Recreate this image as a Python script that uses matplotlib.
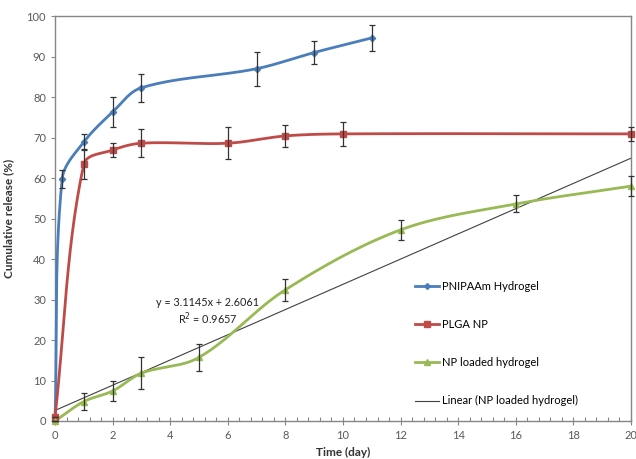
import numpy as np
import matplotlib.pyplot as plt
from matplotlib.lines import Line2D

# release data
pnipaam_t = [0, 0.25, 1, 2, 3, 7, 9, 11]
pnipaam_y = [0, 59.8, 68.9, 76.3, 82.3, 87.0, 91.0, 94.6]
pnipaam_err = [0, 2.2, 2.0, 3.7, 3.5, 4.2, 2.8, 3.3]

plga_t = [0, 1, 2, 3, 6, 8, 10, 20]
plga_y = [1.0, 63.4, 66.9, 68.6, 68.6, 70.4, 70.9, 70.9]
plga_err = [0, 3.7, 1.7, 3.4, 4.0, 2.7, 2.9, 1.7]

gel_t = [0, 1, 2, 3, 5, 8, 12, 16, 20]
gel_y = [0, 4.8, 7.4, 11.8, 15.7, 32.4, 47.2, 53.6, 58.0]
gel_err = [0, 2.0, 2.5, 3.9, 3.3, 2.7, 2.5, 2.1, 2.4]

slope, intercept, r2 = 3.1145, 2.6061, 0.9657

blue = '#4a7ebb'
red = '#be4b48'
green = '#98b954'
grey = '#595959'


def smooth(x, y, sx=28.8, sy=4.05, n=30):
    # smoothed line like Excel: bezier per segment, tangents scaled by segment length
    p = np.column_stack([np.array(x) * sx, np.array(y) * sy])
    p = np.vstack([p[0], p, p[-1]])
    out = []
    for i in range(1, len(p) - 2):
        p0, p1, p2, p3 = p[i - 1], p[i], p[i + 1], p[i + 2]
        L = np.hypot(*(p2 - p1))
        d1 = p2 - p0
        d2 = p3 - p1
        d1 = d1 / (np.hypot(*d1) or 1)
        d2 = d2 / (np.hypot(*d2) or 1)
        c1 = p1 + d1 * L / 3.0
        c2 = p2 - d2 * L / 3.0
        t = np.linspace(0, 1, n)[:, None]
        seg = ((1 - t) ** 3 * p1 + 3 * (1 - t) ** 2 * t * c1
               + 3 * (1 - t) * t ** 2 * c2 + t ** 3 * p2)
        out.append(seg)
    out = np.vstack(out)
    return out[:, 0] / sx, out[:, 1] / sy


plt.rcParams['font.family'] = ['Lato', 'DejaVu Sans']

fig = plt.figure(figsize=(6.36, 4.59), dpi=100)
ax = fig.add_axes([0.0865, 0.0828, 0.9055, 0.8822])

series = [(pnipaam_t, pnipaam_y, pnipaam_err, blue, 'D', 3.2),
          (plga_t, plga_y, plga_err, red, 's', 5),
          (gel_t, gel_y, gel_err, green, '^', 5)]

xs = np.array([0, 20])
ax.plot(xs, slope * xs + intercept, color='#404040', lw=0.8, zorder=2)

for t, y, e, c, m, ms in series:
    sxv, syv = smooth(t, y)
    ax.plot(sxv, syv, color=c, lw=2, zorder=3, clip_on=False)
    ax.plot(t, y, ls='none', marker=m, color=c, ms=ms, zorder=4, clip_on=False)
    ax.errorbar(t, y, yerr=e, fmt='none', ecolor='#333333', elinewidth=0.9,
                capsize=2.5, capthick=0.9, zorder=5, clip_on=False)

ax.text(5.3, 29.3, 'y = 3.1145x + 2.6061', ha='center', va='center',
        fontsize=7.8, color='#222222')
ax.text(5.3, 25.3, 'R$^2$ = %.4f' % r2, ha='center', va='center',
        fontsize=7.8, color='#222222')

ax.set_xlim(0, 20)
ax.set_ylim(0, 100)
ax.set_xticks(np.arange(0, 21, 2))
ax.set_xticks(np.arange(0, 20.01, 0.4), minor=True)
ax.set_yticks(np.arange(0, 101, 10))
ax.tick_params(axis='both', labelsize=8, labelcolor=grey, color='#868686',
               length=3, width=0.8)
ax.tick_params(axis='x', which='minor', direction='in', length=3,
               color='#868686', width=0.8)
ax.tick_params(axis='x', which='major', direction='inout', length=6)
for s in ax.spines.values():
    s.set_color('#868686')
    s.set_linewidth(1)

ax.set_xlabel('Time (day)', fontsize=8.5, fontweight='bold', color='#333333',
              labelpad=4)
ax.set_ylabel('Cumulative release (%)', fontsize=8.5, fontweight='bold',
              color='#333333', labelpad=9)

handles = [Line2D([], [], color=blue, marker='D', ms=3, lw=2),
           Line2D([], [], color=red, marker='s', ms=4.5, lw=2),
           Line2D([], [], color=green, marker='^', ms=4.5, lw=2),
           Line2D([], [], color='#404040', lw=0.8)]
labels = ['PNIPAAm Hydrogel', 'PLGA NP', 'NP loaded hydrogel',
          'Linear (NP loaded hydrogel)']
ax.legend(handles, labels, loc='upper left', bbox_to_anchor=(0.615, 0.36),
          frameon=False, fontsize=8, labelspacing=2.45, handlelength=2.2,
          handletextpad=0.25, borderpad=0)

fig.savefig('out.png', dpi=100, facecolor='w')
